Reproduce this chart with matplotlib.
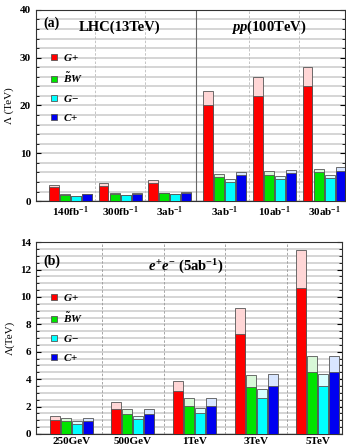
import matplotlib
matplotlib.use('Agg')
import matplotlib.pyplot as plt
from matplotlib.lines import Line2D
import numpy as np

plt.rcParams['font.family'] = 'Liberation Serif'
plt.rcParams['font.weight'] = 'bold'
plt.rcParams['mathtext.fontset'] = 'custom'
plt.rcParams['mathtext.rm'] = 'Liberation Serif:bold'
plt.rcParams['mathtext.bf'] = 'Liberation Serif:bold'
plt.rcParams['mathtext.it'] = 'Liberation Serif:italic:bold'
plt.rcParams['mathtext.bfit'] = 'Liberation Serif:italic:bold'

# ---- data: panel (a), LHC / pp ----
a_labels = ['140fb$^{-1}$', '300fb$^{-1}$', '3ab$^{-1}$',
            '3ab$^{-1}$', '10ab$^{-1}$', '30ab$^{-1}$']
a_gp = [2.95, 3.15, 3.85, 20.0, 22.0, 24.0]
a_gp_up = [3.45, 3.7, 4.35, 23.0, 26.0, 28.0]
a_bw = [1.25, 1.45, 1.6, 5.1, 5.5, 6.1]
a_bw_up = [1.4, 1.6, 1.75, 5.7, 6.2, 6.7]
a_gm = [1.0, 1.2, 1.4, 4.1, 4.6, 4.9]
a_gm_up = [1.15, 1.35, 1.55, 4.65, 5.2, 5.5]
a_cp = [1.4, 1.55, 1.75, 5.45, 5.85, 6.4]
a_cp_up = [1.55, 1.7, 1.9, 6.0, 6.6, 7.2]

# ---- data: panel (b), e+e- ----
b_labels = ['250GeV', '500GeV', '1TeV', '3TeV', '5TeV']
b_gp = [1.02, 1.82, 3.1, 7.3, 10.65]
b_gp_up = [1.3, 2.3, 3.9, 9.2, 13.4]
b_bw = [0.95, 1.45, 2.05, 3.4, 4.55]
b_bw_up = [1.2, 1.8, 2.6, 4.3, 5.7]
b_gm = [0.73, 1.07, 1.52, 2.6, 3.5]
b_gm_up = [0.93, 1.3, 1.88, 3.3, 4.4]
b_cp = [0.97, 1.45, 2.05, 3.5, 4.55]
b_cp_up = [1.2, 1.8, 2.6, 4.4, 5.7]

names = ['$G$+', r'$\tilde{B}W$', '$G$\u2212', '$C$+']
colors = ['#ff0000', '#00e400', '#00ffff', '#0000f0']
light = ['#ffd6d6', '#d8f8d8', '#d8ffff', '#d8e6ff']
edge = '#555555'


def draw(ax, x, solid, upper, pitch, width):
    for k in range(4):
        xs = x + (k - 1.5) * pitch
        ax.bar(xs, upper[k], width, color=light[k], edgecolor=edge, linewidth=0.6, zorder=3)
        ax.bar(xs, solid[k], width, color=colors[k], edgecolor=edge, linewidth=0.6, zorder=4)


def style(ax, ymax, major, minor):
    ax.set_ylim(0, ymax)
    ax.set_yticks(np.arange(0, ymax + 0.01, major))
    ax.set_yticks(np.arange(0, ymax + 0.01, minor), minor=True)
    ax.yaxis.grid(True, which='both', color='#d2d2d2', linewidth=1.3, zorder=0)
    ax.set_axisbelow(True)
    ax.tick_params(axis='y', which='both', direction='in', left=True, right=True, labelsize=8)
    ax.tick_params(axis='y', which='major', length=3.5, width=0.8)
    ax.tick_params(axis='y', which='minor', length=2, width=0.6)
    ax.tick_params(axis='x', length=0, labelsize=8, pad=2)
    for s in ax.spines.values():
        s.set_linewidth(0.8)
        s.set_color('#333333')
    handles = [Line2D([], [], marker='s', linestyle='none', markersize=5,
                      markerfacecolor=c, markeredgecolor=edge, markeredgewidth=0.6)
               for c in colors]
    return handles


fig = plt.figure(figsize=(3.46, 4.46), dpi=100)

# panel (a)
ax1 = fig.add_axes([0.104, 0.549, 0.893, 0.429])
xa = np.arange(6) + np.array([0, 0, 0, 0.1, 0.1, 0.1])
draw(ax1, xa, [a_gp, a_bw, a_gm, a_cp], [a_gp_up, a_bw_up, a_gm_up, a_cp_up], 0.222, 0.2)
for xv in [0.5, 1.5, 3.6, 4.6]:
    ax1.axvline(xv, color='#bbbbbb', linestyle=(0, (3, 2)), linewidth=0.6, zorder=1)
ax1.axvline(2.53, color='#666666', linewidth=0.8, zorder=1)
ax1.set_xlim(-0.69, 5.52)
ax1.set_xticks(xa)
ax1.set_xticklabels(a_labels)
h = style(ax1, 40, 10, 2)
ax1.set_ylabel('\u039b (TeV)', fontsize=8, labelpad=4)
ax1.text(0.025, 0.93, '(a)', transform=ax1.transAxes, fontsize=10, va='center')
ax1.text(0.27, 0.91, 'LHC(13TeV)', transform=ax1.transAxes, fontsize=10.5, ha='center', va='center')
ax1.text(0.755, 0.91, '$pp$(100TeV)', transform=ax1.transAxes, fontsize=10.5, ha='center', va='center')
ax1.legend(h, names, loc='upper left', bbox_to_anchor=(0.02, 0.82), frameon=False,
           fontsize=8, handlelength=0.8, handletextpad=0.4, labelspacing=0.7, borderpad=0.2)

# panel (b)
ax2 = fig.add_axes([0.104, 0.027, 0.884, 0.43])
xb = np.arange(5)
draw(ax2, xb, [b_gp, b_bw, b_gm, b_cp], [b_gp_up, b_bw_up, b_gm_up, b_cp_up], 0.178, 0.16)
for xv in [0.5, 1.5, 2.5, 3.5]:
    ax2.axvline(xv, color='#999999', linestyle=(0, (3, 2)), linewidth=0.6, zorder=1)
ax2.set_xlim(-0.57, 4.39)
ax2.set_xticks(xb)
ax2.set_xticklabels(b_labels)
h = style(ax2, 14, 2, 0.5)
ax2.set_ylabel('\u039b(TeV)', fontsize=8, labelpad=4)
ax2.text(0.025, 0.9, '(b)', transform=ax2.transAxes, fontsize=10, va='center')
ax2.text(0.49, 0.87, '$e^{+}e^{-}$ (5ab$^{-1}$)', transform=ax2.transAxes, fontsize=10.5,
         ha='center', va='center')
ax2.legend(h, names, loc='upper left', bbox_to_anchor=(0.02, 0.78), frameon=False,
           fontsize=8, handlelength=0.8, handletextpad=0.4, labelspacing=0.7, borderpad=0.2)

fig.savefig('out.png', dpi=100)
